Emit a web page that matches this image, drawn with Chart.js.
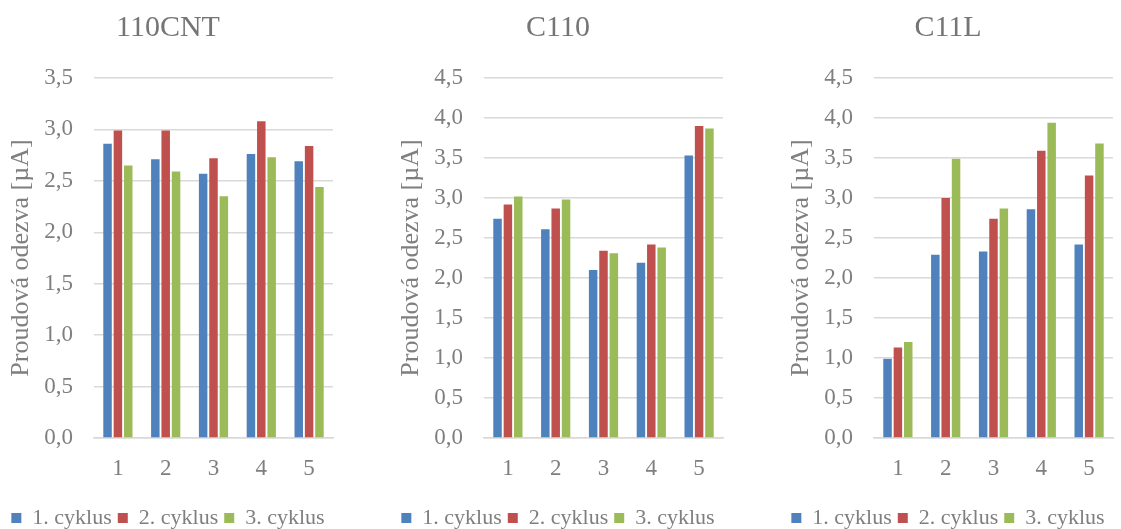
<!DOCTYPE html>
<html>
<head>
  <meta charset="utf-8">
  <title>Proudova odezva</title>
  <script src="https://cdn.jsdelivr.net/npm/chart.js@4/dist/chart.umd.min.js"></script>
  <style>
    body { margin: 0; background: #fff; overflow: hidden; }
    #wrap { position: relative; width: 1121px; height: 529px; overflow: hidden; }
    .panel { position: absolute; top: 0; width: 360px; height: 529px; }
  </style>
</head>
<body>
<div id="wrap">
  <div class="panel" style="left:-9px"><canvas id="c0" width="360" height="529"></canvas></div>
  <div class="panel" style="left:381px"><canvas id="c1" width="360" height="529"></canvas></div>
  <div class="panel" style="left:771px"><canvas id="c2" width="360" height="529"></canvas></div>
</div>

<script>
// data
var labels = ['1', '2', '3', '4', '5'];
var seriesNames = ['1. cyklus', '2. cyklus', '3. cyklus'];
var titles = ['110CNT', 'C110', 'C11L'];
var yMax = [3.5, 4.5, 4.5];

var cnt110_1 = [2.86, 2.71, 2.57, 2.76, 2.69];
var cnt110_2 = [2.99, 2.99, 2.72, 3.08, 2.84];
var cnt110_3 = [2.65, 2.59, 2.35, 2.73, 2.44];

var c110_1 = [2.74, 2.61, 2.10, 2.19, 3.53];
var c110_2 = [2.92, 2.87, 2.34, 2.42, 3.90];
var c110_3 = [3.02, 2.98, 2.31, 2.38, 3.87];

var c11l_1 = [0.99, 2.29, 2.33, 2.86, 2.42];
var c11l_2 = [1.13, 3.00, 2.74, 3.59, 3.28];
var c11l_3 = [1.20, 3.49, 2.87, 3.94, 3.68];

var panels = [
  [cnt110_1, cnt110_2, cnt110_3],
  [c110_1, c110_2, c110_3],
  [c11l_1, c11l_2, c11l_3]
];
var colors = ['#4f81bd', '#c0504d', '#9bbb59'];
var gray = '#7f7f7f';
var font = 'Liberation Serif, Times New Roman, serif';

Chart.defaults.animation = false;

for (var p = 0; p < 3; p++) {
  var sets = [];
  for (var s = 0; s < 3; s++) {
    sets.push({
      label: seriesNames[s],
      data: panels[p][s],
      backgroundColor: colors[s],
      borderWidth: 0,
      barPercentage: 0.82,
      categoryPercentage: 0.65
    });
  }

  new Chart(document.getElementById('c' + p).getContext('2d'), {
    type: 'bar',
    data: { labels: labels, datasets: sets },
    options: {
      responsive: false,
      // negative bottom padding pushes the legend closer to the bottom edge
      layout: { padding: { left: 2, right: 8, top: 0, bottom: -10 } },
      plugins: {
        title: {
          display: true,
          text: titles[p],
          color: '#757575',
          font: { family: font, size: 30, weight: 'normal' },
          padding: { top: 10, bottom: 32 }
        },
        legend: {
          display: true,
          position: 'bottom',
          labels: {
            color: gray,
            font: { family: font, size: 22 },
            boxWidth: 10,
            boxHeight: 10,
            padding: 6
          }
        },
        tooltip: { enabled: false }
      },
      scales: {
        x: {
          grid: { display: false },
          border: { display: true, color: '#d9d9d9', width: 1.5 },
          ticks: { color: gray, font: { family: font, size: 23 }, padding: 9 },
          afterFit: function (scale) { scale.height = 63; }
        },
        y: {
          min: 0,
          max: yMax[p],
          ticks: {
            stepSize: 0.5,
            color: gray,
            padding: 21,
            font: { family: font, size: 23 },
            callback: function (v) { return v.toFixed(1).replace('.', ','); }
          },
          grid: { color: '#d9d9d9', lineWidth: 1.5, drawTicks: false },
          border: { display: false },
          title: {
            display: true,
            text: 'Proudová odezva [µA]',
            color: gray,
            font: { family: font, size: 26 },
            padding: { top: 13, bottom: 0 }
          },
          afterFit: function (scale) { scale.width = 101; }
        },
        // empty right axis, only keeps room so the legend can be wider than the plot
        yr: {
          position: 'right',
          display: true,
          min: 0,
          max: yMax[p],
          ticks: { display: false },
          grid: { display: false },
          border: { display: false },
          afterFit: function (scale) { scale.width = 10; }
        }
      }
    }
  });
}
</script>
</body>
</html>
